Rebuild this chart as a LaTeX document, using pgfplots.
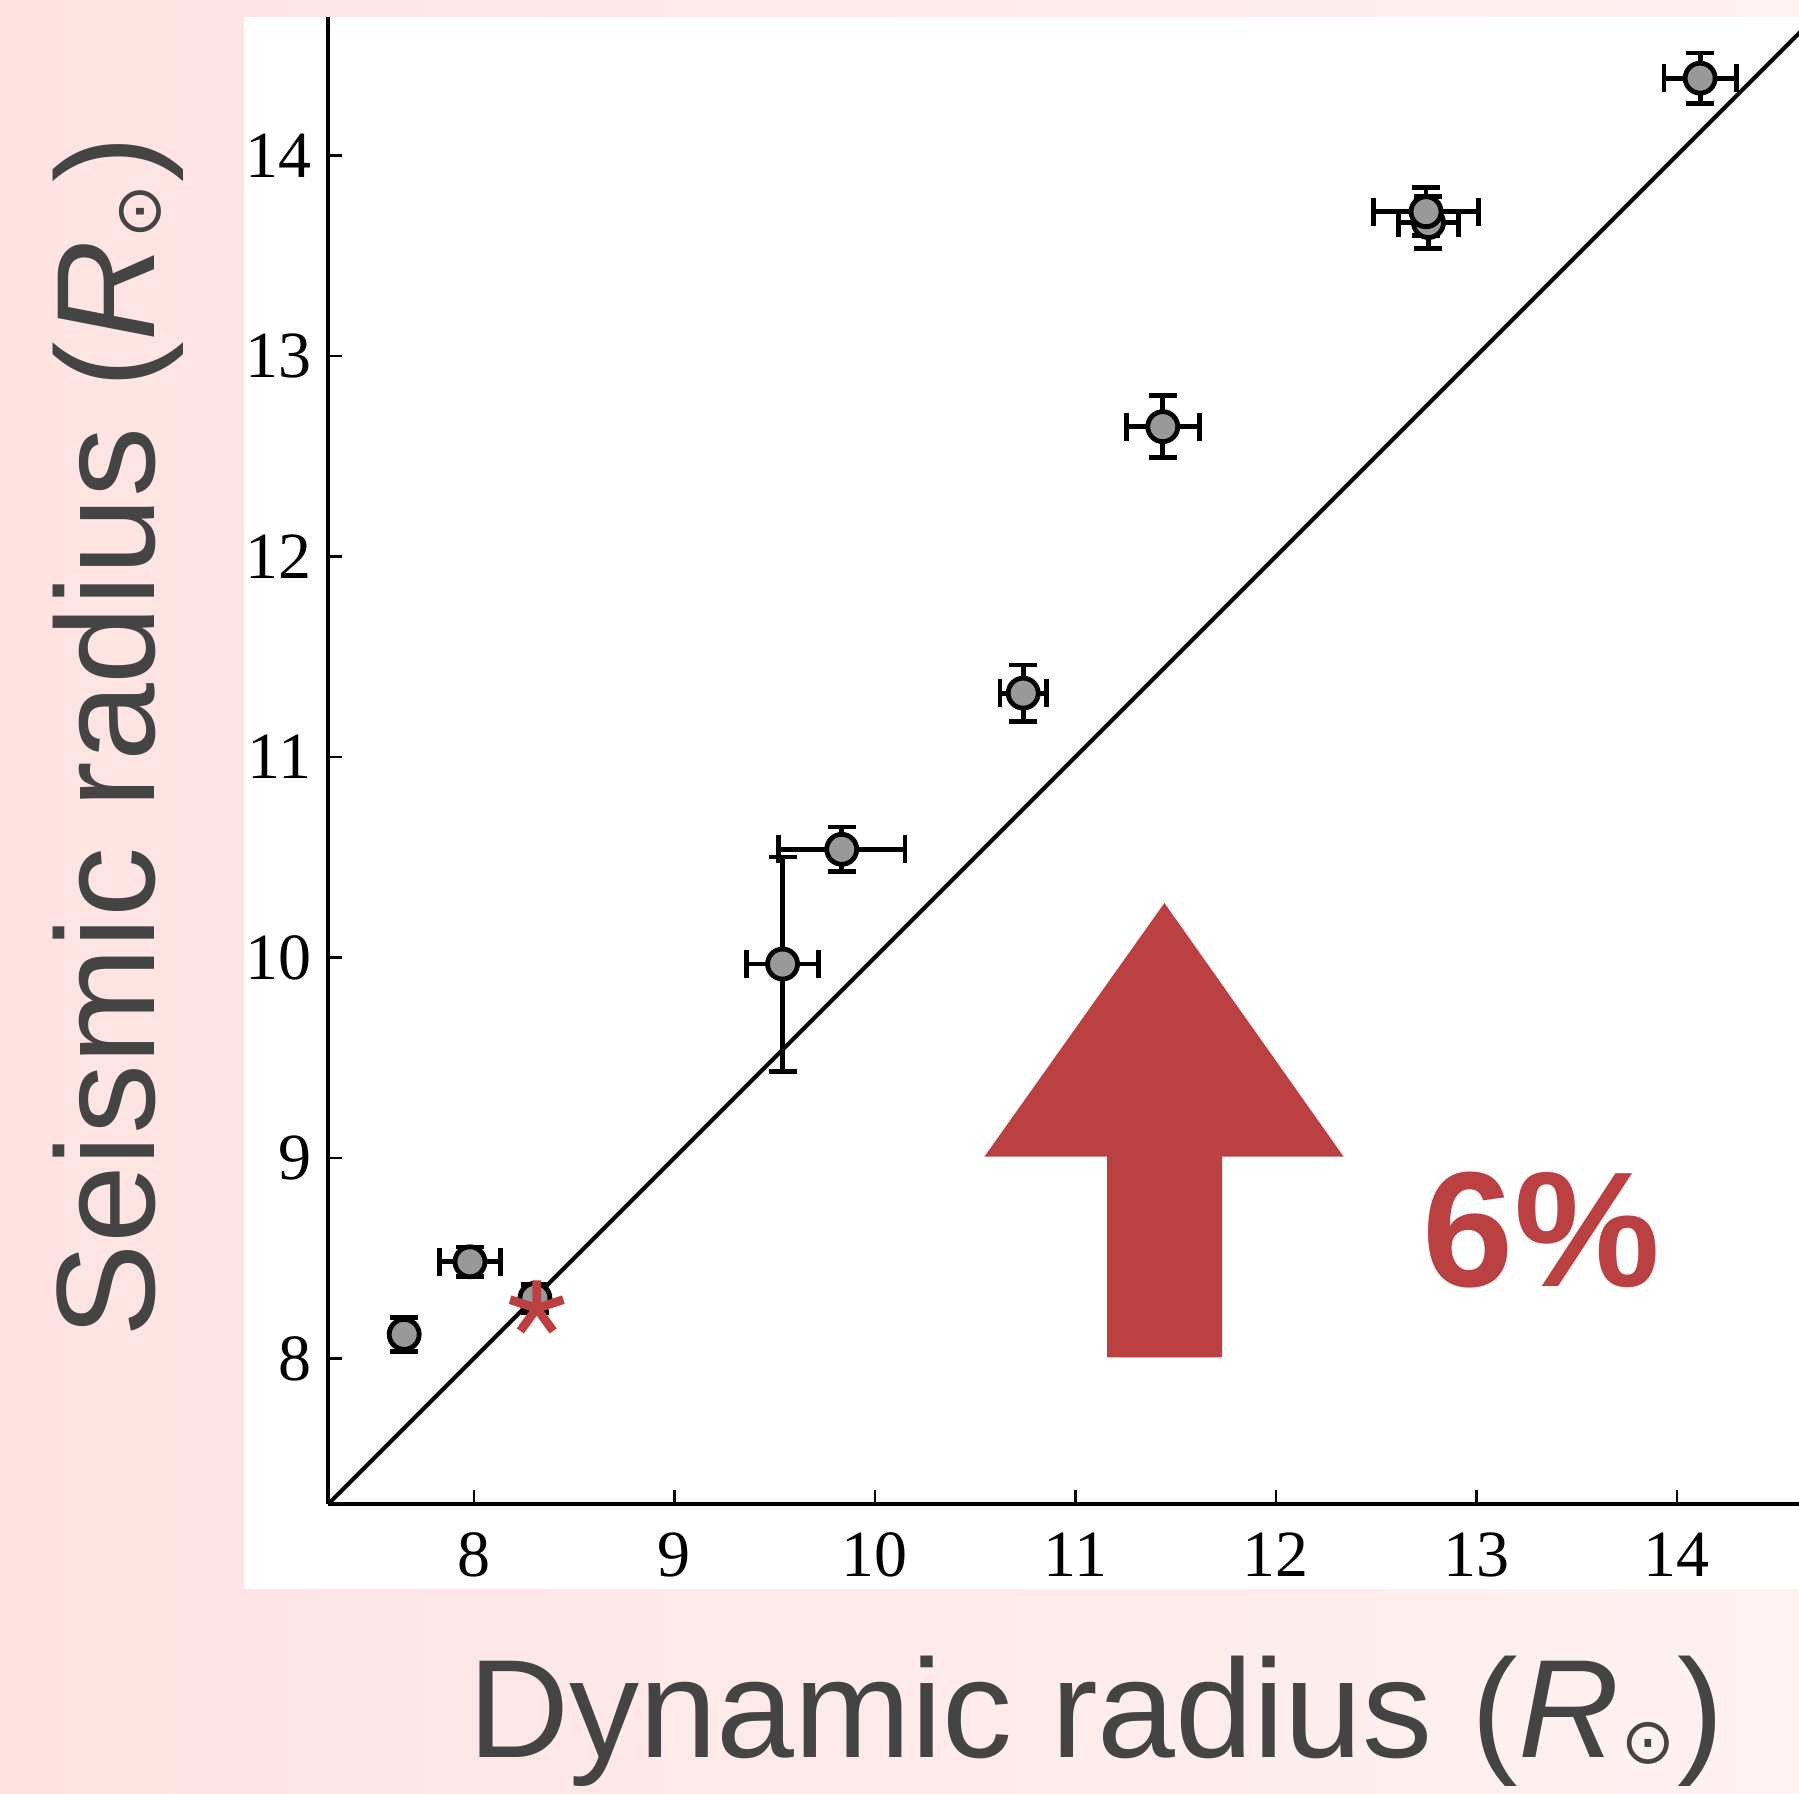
\documentclass[border=0pt]{standalone}
\usepackage{pgfplots}
\pgfplotsset{compat=1.18}
\usepackage{fontspec}
\setmainfont{Liberation Serif}
\newfontfamily\labelfont{Liberation Sans}
\newfontfamily\symfont{DejaVu Sans}
\definecolor{pinkL}{RGB}{255,227,227}
\definecolor{pinkR}{RGB}{255,242,242}
\definecolor{myred}{RGB}{186,64,65}
\definecolor{lblgray}{RGB}{68,68,68}
\definecolor{mkgray}{RGB}{153,153,153}
\newcommand{\Rsun}{\textit{R}\kern0.5pt\raisebox{-1.5pt}{\symfont\fontsize{16}{16}\selectfont ⊙}\kern0.5pt}
\pgfplotstableread{
x y ex ey
7.653 8.120 0.020 0.085
7.981 8.482 0.152 0.074
8.305 8.300 0.040 0.070
9.540 9.967 0.178 0.534
9.835 10.539 0.315 0.111
10.740 11.318 0.116 0.140
11.436 12.647 0.182 0.154
12.761 13.665 0.150 0.128
12.749 13.719 0.263 0.120
14.116 14.385 0.180 0.125
}\pts
\begin{document}
\begin{tikzpicture}
\shade[left color=pinkL, right color=pinkR] (0,0) rectangle (449.75pt,448.25pt);
\fill[white] (61pt,51pt) rectangle (449.75pt,444pt);
\begin{axis}[
  at={(82pt,72.25pt)}, anchor=south west,
  scale only axis, width=367.75pt, height=371.75pt,
  xmin=7.273, xmax=14.609, ymin=7.274, ymax=14.69,
  axis x line*=bottom, axis y line*=left,
  axis line style={-, line width=0.8pt, black},
  xtick={8,...,14}, ytick={8,...,14},
  tick align=inside, major tick length=3.6pt,
  tick style={black, line width=0.6pt},
  /pgf/number format/assume math mode=true,
  ticklabel style={font=\fontsize{16.5}{16.5}\selectfont, inner sep=0pt},
  xticklabel style={anchor=north, yshift=-7pt},
  yticklabel style={anchor=east, xshift=-4pt},
  xlabel={\labelfont\fontsize{35}{35}\selectfont Dynamic radius (\Rsun)},
  ylabel={\labelfont\fontsize{35}{35}\selectfont Seismic radius (\Rsun)},
  xlabel style={at={(rel axis cs:0.522,-0.1705)}, anchor=base, text=lblgray, inner sep=0pt},
  ylabel style={at={(rel axis cs:-0.1177,0.516)}, anchor=base, rotate=0, text=lblgray, inner sep=0pt},
  clip=true,
]
\addplot[black, line width=1pt] coordinates {(7.273,7.273) (14.8,14.8)};
\addplot[only marks, mark=*, mark size=3.75pt,
  mark options={fill=mkgray, draw=black, line width=1.2pt},
  error bars/.cd, x dir=both, x explicit, y dir=both, y explicit,
  error bar style={line width=1.2pt, black},
  error mark options={rotate=90, line width=1.2pt, mark size=3.5pt, black}]
  table[x=x, y=y, x error=ex, y error=ey] {\pts};
\addplot[myred, line width=2.2pt, only marks, mark=star, mark size=7pt,
  mark options={draw=myred, line width=2.2pt, line cap=butt}]
  coordinates {(8.314,8.25)};
\end{axis}
\fill[myred] (291.1pt,222.5pt) -- (335.9pt,159.1pt) -- (305.5pt,159.1pt) -- (305.5pt,108.9pt)
  -- (276.8pt,108.9pt) -- (276.8pt,159.1pt) -- (246.1pt,159.1pt) -- cycle;
\node[anchor=base west, inner sep=0pt, text=myred] at (355.5pt,126.6pt)
  {\labelfont\bfseries\fontsize{41}{41}\selectfont 6\%};
\pgfresetboundingbox
\path[use as bounding box] (0,0) rectangle (449.75pt,448.25pt);
\end{tikzpicture}
\end{document}
